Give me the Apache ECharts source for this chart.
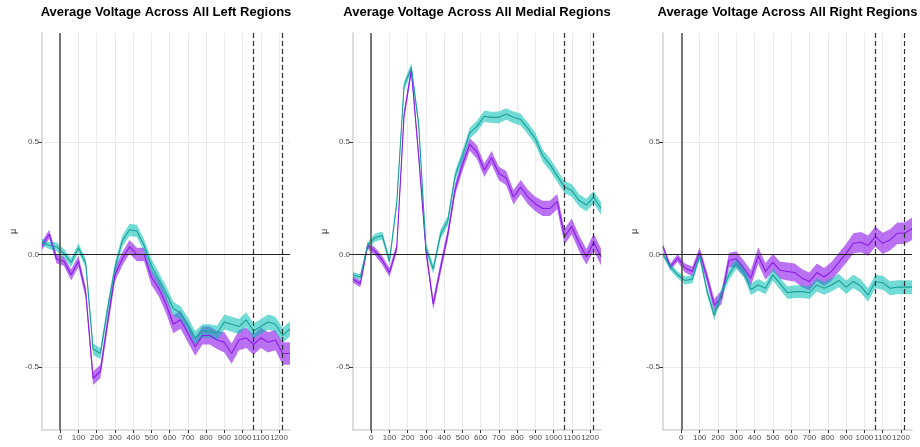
<!DOCTYPE html>
<html>
<head>
<meta charset="utf-8">
<script src="https://cdn.jsdelivr.net/npm/echarts@6/dist/echarts.min.js"></script>
<style>
html,body{margin:0;padding:0;background:#fff;}
#chart{width:920px;height:447px;}
</style>
</head>
<body>
<div id="chart"></div>
<script>
// ---- data ----
const times = [-100,-60,-20,20,60,100,140,180,220,260,300,340,380,420,460,500,540,580,620,660,700,740,780,820,860,900,940,980,1020,1060,1100,1140,1180,1220,1260];
const xTickLabels = [0,100,200,300,400,500,600,700,800,900,1000,1100,1200];
const yTickLabels = [-0.5,0,0.5];
const eventMarks = [1060,1220];
const panelTitles = ['Average Voltage Across All Left Regions','Average Voltage Across All Medial Regions','Average Voltage Across All Right Regions'];

const leftPurple = [0.04,0.09,-0.02,-0.03,-0.09,-0.03,-0.17,-0.55,-0.52,-0.30,-0.09,-0.02,0.035,0.00,0.00,-0.10,-0.15,-0.22,-0.31,-0.29,-0.35,-0.41,-0.36,-0.36,-0.38,-0.39,-0.44,-0.38,-0.37,-0.40,-0.37,-0.39,-0.38,-0.44,-0.44];
const leftTeal = [0.055,0.04,0.035,0.005,-0.035,0.03,-0.04,-0.42,-0.44,-0.24,-0.06,0.06,0.11,0.105,0.04,-0.05,-0.11,-0.17,-0.24,-0.26,-0.31,-0.37,-0.34,-0.34,-0.35,-0.30,-0.31,-0.32,-0.29,-0.34,-0.32,-0.30,-0.31,-0.36,-0.33];
const medialPurple = [-0.11,-0.13,0.04,0.015,-0.025,-0.08,0.03,0.62,0.82,0.44,0.02,-0.22,-0.06,0.09,0.29,0.40,0.49,0.455,0.375,0.43,0.36,0.34,0.255,0.30,0.255,0.225,0.205,0.205,0.235,0.08,0.125,0.05,-0.01,0.055,-0.01];
const medialTeal = [-0.09,-0.10,0.04,0.075,0.085,-0.03,0.23,0.75,0.83,0.58,0.03,-0.065,0.09,0.15,0.35,0.44,0.54,0.57,0.615,0.61,0.61,0.625,0.61,0.60,0.56,0.515,0.44,0.40,0.35,0.30,0.285,0.24,0.22,0.255,0.205];
const rightPurple = [0.035,-0.055,-0.015,-0.06,-0.075,0.01,-0.10,-0.225,-0.19,-0.025,-0.02,-0.06,-0.105,-0.005,-0.075,-0.035,-0.07,-0.075,-0.08,-0.105,-0.12,-0.08,-0.10,-0.075,-0.035,0.005,0.05,0.055,0.04,0.08,0.05,0.065,0.095,0.095,0.115];
const rightTeal = [0.0,-0.055,-0.09,-0.115,-0.11,-0.005,-0.16,-0.27,-0.17,-0.09,-0.04,-0.075,-0.155,-0.135,-0.15,-0.09,-0.13,-0.17,-0.165,-0.165,-0.17,-0.135,-0.15,-0.135,-0.115,-0.145,-0.12,-0.14,-0.18,-0.12,-0.125,-0.15,-0.145,-0.145,-0.145];

const leftPurpleSE = [0.02,0.02,0.02,0.02,0.025,0.025,0.025,0.03,0.03,0.03,0.03,0.03,0.03,0.03,0.03,0.035,0.035,0.04,0.04,0.04,0.04,0.04,0.04,0.04,0.04,0.045,0.045,0.045,0.045,0.045,0.045,0.045,0.045,0.05,0.05];
const leftTealSE = [0.015,0.015,0.02,0.02,0.02,0.02,0.02,0.025,0.025,0.025,0.025,0.025,0.027,0.027,0.027,0.03,0.03,0.03,0.03,0.03,0.03,0.03,0.03,0.03,0.033,0.033,0.033,0.033,0.033,0.033,0.033,0.033,0.033,0.033,0.033];
const medialPurpleSE = [0.015,0.015,0.015,0.018,0.02,0.02,0.02,0.02,0.022,0.022,0.022,0.025,0.025,0.025,0.025,0.028,0.028,0.03,0.03,0.03,0.03,0.032,0.032,0.032,0.032,0.032,0.034,0.034,0.034,0.035,0.035,0.035,0.035,0.037,0.037];
const medialTealSE = [0.012,0.012,0.015,0.018,0.018,0.018,0.018,0.02,0.02,0.02,0.02,0.02,0.022,0.022,0.022,0.024,0.024,0.025,0.025,0.025,0.026,0.026,0.026,0.026,0.026,0.027,0.027,0.027,0.027,0.027,0.028,0.028,0.028,0.028,0.028];
const rightPurpleSE = [0.012,0.015,0.018,0.02,0.022,0.022,0.025,0.028,0.03,0.032,0.035,0.035,0.035,0.037,0.037,0.038,0.038,0.04,0.04,0.04,0.04,0.04,0.04,0.042,0.042,0.042,0.045,0.045,0.045,0.045,0.047,0.047,0.048,0.048,0.05];
const rightTealSE = [0.012,0.015,0.015,0.018,0.018,0.018,0.02,0.022,0.022,0.024,0.024,0.025,0.025,0.026,0.026,0.027,0.027,0.028,0.028,0.028,0.028,0.029,0.029,0.029,0.03,0.03,0.03,0.03,0.03,0.03,0.031,0.031,0.031,0.031,0.031];

// ---- styling ----
const PURPLE_LINE = '#8A1BE8', PURPLE_BAND = 'rgba(140,20,235,0.6)';
const TEAL_LINE = '#1A9E98', TEAL_BAND = 'rgba(0,190,178,0.55)';
const FONT = 'Liberation Sans, Arial, sans-serif';

const panels = [
  {purple: leftPurple, purpleSE: leftPurpleSE, teal: leftTeal, tealSE: leftTealSE, left: 42, width: 248},
  {purple: medialPurple, purpleSE: medialPurpleSE, teal: medialTeal, tealSE: medialTealSE, left: 353, width: 248},
  {purple: rightPurple, purpleSE: rightPurpleSE, teal: rightTeal, tealSE: rightTealSE, left: 663, width: 249}
];
const TOP = 33, HEIGHT = 397;

function bandSeries(idx, mean, se, color) {
  const data = times.map((t, i) => [t, mean[i] - se[i], mean[i] + se[i]]);
  return {
    type: 'custom', xAxisIndex: idx, yAxisIndex: idx, silent: true, animation: false, z: 2,
    data: data,
    encode: {x: 0, y: [1, 2]},
    renderItem: function (params, api) {
      if (params.dataIndex !== 0) return null;
      const pts = [];
      for (let i = 0; i < data.length; i++) pts.push(api.coord([data[i][0], data[i][2]]));
      for (let i = data.length - 1; i >= 0; i--) pts.push(api.coord([data[i][0], data[i][1]]));
      return {type: 'polygon', shape: {points: pts}, style: {fill: color, stroke: null}};
    }
  };
}
function lineSeries(idx, mean, color, z) {
  return {
    type: 'line', xAxisIndex: idx, yAxisIndex: idx, silent: true, animation: false, z: z,
    data: times.map((t, i) => [t, mean[i]]),
    symbol: 'none', showSymbol: false,
    lineStyle: {color: color, width: 1.1}
  };
}

const option = {
  backgroundColor: '#fff',
  animation: false,
  title: panels.map((p, i) => ({
    text: panelTitles[i], left: p.left + p.width / 2, top: 6, textAlign: 'center', padding: 0,
    textStyle: {fontSize: 13, fontWeight: 'bold', color: '#000', fontFamily: FONT}
  })),
  grid: panels.map(p => ({left: p.left, top: TOP, width: p.width, height: HEIGHT, outerBoundsMode: 'none', containLabel: false})),
  xAxis: panels.map((p, i) => ({
    type: 'value', gridIndex: i, min: -100, max: 1260, interval: 100,
    axisLine: {show: true, onZero: false, lineStyle: {color: '#D3D3D3', width: 1.5}},
    axisTick: {show: true, length: 3, lineStyle: {color: '#333', width: 1}, customValues: xTickLabels},
    axisLabel: {show: true, interval: 0, fontSize: 8, color: '#4D4D4D', fontFamily: FONT, margin: 4, customValues: xTickLabels,
      formatter: v => String(v)},
    splitLine: {show: true, lineStyle: {color: '#EBEBEB', width: 1}}
  })),
  yAxis: panels.map((p, i) => ({
    type: 'value', gridIndex: i, min: -0.78, max: 0.985,
    name: 'μ', nameLocation: 'middle', nameRotate: 90, nameGap: 24,
    nameTextStyle: {fontSize: 9, color: '#333', fontFamily: FONT},
    axisLine: {show: true, onZero: false, lineStyle: {color: '#D3D3D3', width: 1.5}},
    axisTick: {show: true, length: 4, lineStyle: {color: '#333', width: 1}, customValues: yTickLabels},
    axisLabel: {show: true, fontSize: 8, color: '#4D4D4D', fontFamily: FONT, margin: 3, customValues: yTickLabels,
      formatter: v => Number(v).toFixed(1)},
    splitLine: {show: true, lineStyle: {color: '#EBEBEB', width: 1}}
  })),
  series: []
};

panels.forEach((p, i) => {
  option.series.push(bandSeries(i, p.purple, p.purpleSE, PURPLE_BAND));
  option.series.push(bandSeries(i, p.teal, p.tealSE, TEAL_BAND));
  const purple = lineSeries(i, p.purple, PURPLE_LINE, 4);
  const teal = lineSeries(i, p.teal, TEAL_LINE, 4);
  teal.markLine = {
    silent: true, symbol: ['none', 'none'], label: {show: false}, animation: false,
    data: [
      {xAxis: 0, lineStyle: {color: '#555', width: 1.6, type: 'solid'}},
      {yAxis: 0, lineStyle: {color: '#222', width: 1.2, type: 'solid'}},
      ...eventMarks.map(m => ({xAxis: m, lineStyle: {color: '#333', width: 1.2, type: [5, 3]}}))
    ]
  };
  option.series.push(purple, teal);
});

const chart = echarts.init(document.getElementById('chart'), null, {renderer: 'canvas'});
chart.setOption(option);
</script>
</body>
</html>
